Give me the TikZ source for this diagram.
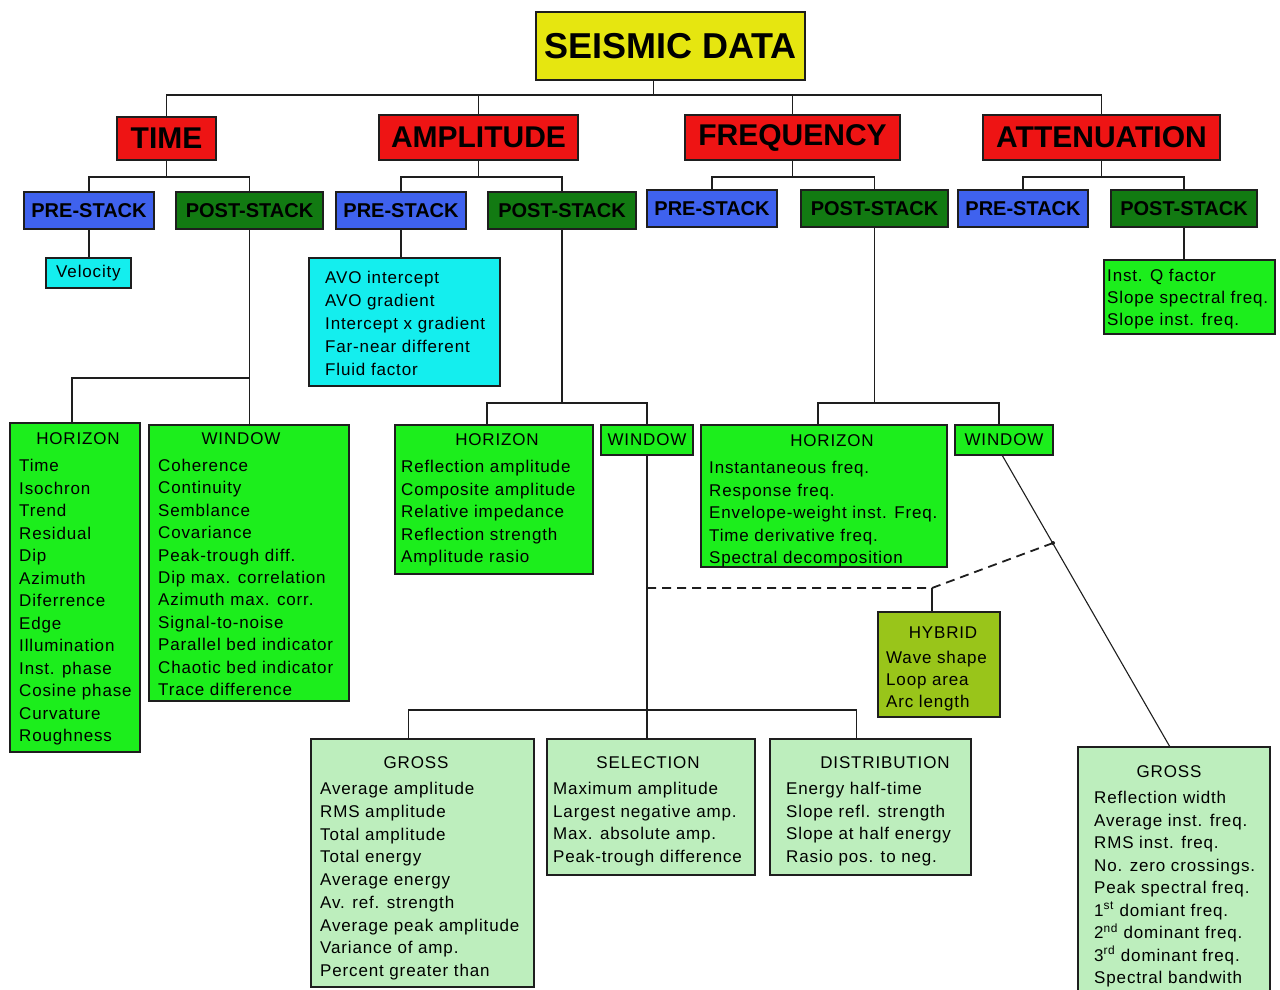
\documentclass[tikz,border=0pt]{standalone}
\usepackage{fontspec}
\setmainfont{Liberation Sans}
\newfontfamily\lsfont[LetterSpace=5]{Liberation Sans}
\definecolor{cyel}{HTML}{E6E610}
\definecolor{cred}{HTML}{EE1414}
\definecolor{cblue}{HTML}{3F62EE}
\definecolor{cdgreen}{HTML}{127A12}
\definecolor{ccyan}{HTML}{14EEEE}
\definecolor{cbgreen}{HTML}{1CEE1C}
\definecolor{cpale}{HTML}{BDEEBD}
\definecolor{colive}{HTML}{99C51A}
\definecolor{cline}{HTML}{1E1E1E}
\newcommand\bx[7]{\node[box,#6,minimum width={#4-#2},minimum height={#5-#3}] (#1) at ({(#2+#4)/2},{(#3+#5)/2}) {#7};}
\begin{document}
\begin{tikzpicture}[x=1pt,y=-1pt,
  box/.style={draw=cline,line width=1.4pt,inner sep=0pt,outer sep=0pt},
  conn/.style={draw=cline,line width=1.6pt},
  lst/.style={font=\lsfont\fontsize{17}{#1}\selectfont,inner sep=0pt,align=left,anchor=north west},
  lst/.default=22.5,
  ttl/.style={font=\lsfont\fontsize{17}{20}\selectfont,inner sep=0pt},
  big/.style={font=\fontsize{30}{34}\bfseries},
  mid/.style={font=\fontsize{20}{24}\bfseries},
  yel/.style={fill=cyel}, red/.style={fill=cred}, blu/.style={fill=cblue},
  dgr/.style={fill=cdgreen}, cya/.style={fill=ccyan}, bgr/.style={fill=cbgreen},
  pal/.style={fill=cpale}, oli/.style={fill=colive}]
\useasboundingbox[fill=white] (0,0) rectangle (1280,990);
\clip (0,0) rectangle (1280,990);
% level 0 and 1
\bx{seis}{536}{12}{805}{80}{yel}{\fontsize{36}{40}\bfseries SEISMIC DATA}
\bx{time}{117}{117}{216}{160}{red,big}{TIME}
\bx{amp}{379}{115}{578}{160}{red,big}{AMPLITUDE}
\bx{freq}{685}{115}{900}{160}{red,big}{FREQUENCY}
\bx{att}{983}{115}{1220}{160}{red,big}{ATTENUATION}
% level 2
\bx{tpre}{24}{192}{154}{229}{blu,mid}{PRE-STACK}
\bx{tpost}{176}{192}{323}{229}{dgr,mid}{POST-STACK}
\bx{apre}{336}{192}{466}{229}{blu,mid}{PRE-STACK}
\bx{apost}{488}{192}{636}{229}{dgr,mid}{POST-STACK}
\bx{fpre}{647}{190}{777}{227}{blu,mid}{PRE-STACK}
\bx{fpost}{801}{190}{948}{227}{dgr,mid}{POST-STACK}
\bx{atpre}{958}{190}{1088}{227}{blu,mid}{PRE-STACK}
\bx{atpost}{1111}{190}{1257}{227}{dgr,mid}{POST-STACK}
% level 3
\bx{vel}{46}{258}{131}{288}{cya,ttl}{Velocity}
\bx{avo}{309}{258}{500}{386}{cya}{}
\bx{attb}{1104}{260}{1275}{334}{bgr}{}
\bx{thor}{10}{423}{140}{752}{bgr}{}
\bx{twin}{149}{425}{349}{701}{bgr}{}
\bx{ahor}{395}{425}{593}{574}{bgr}{}
\bx{awin}{601}{425}{693}{455}{bgr,ttl}{WINDOW}
\bx{fhor}{701}{425}{947}{567}{bgr}{}
\bx{fwin}{955}{425}{1053}{455}{bgr,ttl}{WINDOW}
\bx{hyb}{878}{612}{1000}{717}{oli}{}
\bx{agross}{311}{739}{534}{987}{pal}{}
\bx{sel}{547}{739}{755}{875}{pal}{}
\bx{dist}{770}{739}{971}{875}{pal}{}
\bx{gtwo}{1078}{747}{1270}{1005}{pal}{}
% texts
\node[lst=23] (avo-l) at (325,271) {AVO intercept\\AVO gradient\\Intercept x gradient\\Far-near different\\Fluid factor};
\node[lst=22] (attb-l) at (1107,269) {Inst. Q factor\\Slope spectral freq.\\Slope inst. freq.};
\node[ttl] (thor-t) at (78,439) {HORIZON};
\node[lst] (thor-l) at (19,459) {Time\\Isochron\\Trend\\Residual\\Dip\\Azimuth\\Diferrence\\Edge\\Illumination\\Inst. phase\\Cosine phase\\Curvature\\Roughness};
\node[ttl] (twin-t) at (241,439) {WINDOW};
\node[lst=22.4] (twin-l) at (158,459) {Coherence\\Continuity\\Semblance\\Covariance\\Peak-trough diff.\\Dip max. correlation\\Azimuth max. corr.\\Signal-to-noise\\Parallel bed indicator\\Chaotic bed indicator\\Trace difference};
\node[ttl] (ahor-t) at (497,440) {HORIZON};
\node[lst] (ahor-l) at (401,460) {Reflection amplitude\\Composite amplitude\\Relative impedance\\Reflection strength\\Amplitude rasio};
\node[ttl] (fhor-t) at (832,441) {HORIZON};
\node[lst] (fhor-l) at (709,461) {Instantaneous freq.\\Response freq.\\Envelope-weight inst. Freq.\\Time derivative freq.\\Spectral decomposition};
\node[ttl] (hyb-t) at (943,633) {HYBRID};
\node[lst=22] (hyb-l) at (886,651) {Wave shape\\Loop area\\Arc length};
\node[ttl] (agross-t) at (416,763) {GROSS};
\node[lst=22.75] (agross-l) at (320,782) {Average amplitude\\RMS amplitude\\Total amplitude\\Total energy\\Average energy\\Av. ref. strength\\Average peak amplitude\\Variance of amp.\\Percent greater than};
\node[ttl] (sel-t) at (648,763) {SELECTION};
\node[lst=22.7] (sel-l) at (553,782) {Maximum amplitude\\Largest negative amp.\\Max. absolute amp.\\Peak-trough difference};
\node[ttl] (dist-t) at (885,763) {DISTRIBUTION};
\node[lst=22.7] (dist-l) at (786,782) {Energy half-time\\Slope refl. strength\\Slope at half energy\\Rasio pos. to neg.};
\node[ttl] (gtwo-t) at (1169,772) {GROSS};
\node[lst] (gtwo-l) at (1094,791) {Reflection width\\Average inst. freq.\\RMS inst. freq.\\No. zero crossings.\\Peak spectral freq.\\1\textsuperscript{st} domiant freq.\\2\textsuperscript{nd} dominant freq.\\3\textsuperscript{rd} dominant freq.\\Spectral bandwith};
% bus coordinates
\coordinate (b1) at (0,378);
\coordinate (b2) at (0,403);
\coordinate (b4) at (999,403);
\coordinate (dj) at (932,588);
\coordinate (de) at (1053,543);
% connectors
\draw[conn] ([xshift=-17pt]seis.south) -- ++(0,15);
\draw[conn] (time.north) -- ++(0,-22) -| (att.north);
\draw[conn] (amp.north) -- ++(0,-20);
\draw[conn] (freq.north) -- ++(0,-20);
\draw[conn] (time.south) -- ++(0,17);
\draw[conn] (tpre.north) -- ++(0,-15) -| (tpost.north);
\draw[conn] (amp.south) -- ++(0,17);
\draw[conn] (apre.north) -- ++(0,-15) -| (apost.north);
\draw[conn] (freq.south) -- ++(0,17);
\draw[conn] (fpre.north) -- ++(0,-13) -| (fpost.north);
\draw[conn] (att.south) -- ++(0,17);
\draw[conn] (atpre.north) -- ++(0,-13) -| (atpost.north);
\draw[conn] (tpre.south) -- (tpre.south |- vel.north);
\draw[conn] (apre.south) -- (apre.south |- avo.north);
\draw[conn] (atpost.south) -- (atpost.south |- attb.north);
\draw[conn] (tpost.south) -- (tpost.south |- twin.north);
\draw[conn] ([xshift=-3pt]thor.north) |- (tpost.south |- b1);
\draw[conn] (apost.south) -- (apost.south |- b2);
\draw[conn] ([xshift=-7pt]ahor.north) |- (awin.north |- b2) -- (awin.north);
\draw[conn] (awin.south) -- (awin.south |- sel.north);
\draw[conn] ([xshift=-14pt]agross.north) -- ++(0,-29) -| ([xshift=-14pt]dist.north);
\draw[conn] (fpost.south) -- (fpost.south |- b2);
\draw[conn] ([xshift=-6pt]fhor.north) |- (b4) -- ([xshift=-5pt]fwin.north);
\draw[conn,line width=1.1pt] ([xshift=-2pt]fwin.south) -- ([xshift=-4pt]gtwo.north);
\draw[conn,line width=1.8pt,dash pattern=on 9pt off 6pt] (awin.south |- dj) -- (dj) -- (de);
\draw[conn] (dj) -- ([xshift=-7pt]hyb.north);
\fill[cline] (de) circle (2pt);
\end{tikzpicture}
\end{document}
